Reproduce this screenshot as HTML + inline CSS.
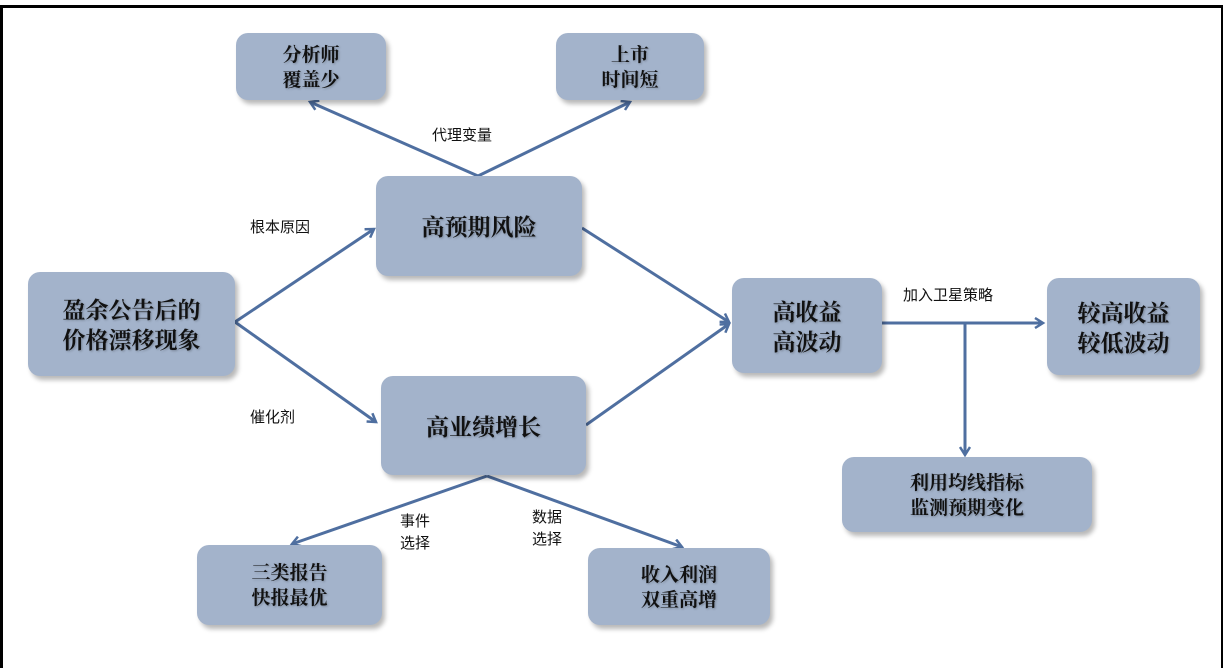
<!DOCTYPE html>
<html><head><meta charset="utf-8"><style>
body{margin:0;width:1224px;height:657px;background:#fff;position:relative;overflow:hidden;font-family:"Liberation Sans","Noto Sans CJK SC",sans-serif}
.f{position:absolute;left:0;top:5px;width:1218px;height:660px;border-top:3px solid #000;border-left:3px solid #000;border-right:2px solid #000}
.b{position:absolute;background:#a3b3cb;border-radius:12px;box-shadow:3px 4px 5px rgba(0,0,0,.28);display:flex;align-items:center;justify-content:center;text-align:center;font-weight:bold;color:#111;font-family:"Noto Serif CJK SC","Noto Sans CJK SC",serif;line-height:1.3;text-shadow:1px 1px 2px rgba(0,0,0,.25)}
.s{font-size:19px}.m{font-size:23px}
.l{position:absolute;font-size:15px;color:#111;font-family:"Noto Sans CJK SC",sans-serif;line-height:1.45}
svg{position:absolute;left:0;top:0}
</style></head><body>
<div class="f"></div>
<svg width="1224" height="657"><defs><marker id="a" markerWidth="12" markerHeight="12" refX="9" refY="6" orient="auto" markerUnits="userSpaceOnUse"><path d="M1,1 L9,6 L1,11" fill="none" stroke="#4f6fa0" stroke-width="2.5"/></marker></defs>
<g stroke="#4f6fa0" stroke-width="3" fill="none">
<line x1="235" y1="322" x2="374" y2="229" marker-end="url(#a)"/>
<line x1="235" y1="322" x2="376" y2="422" marker-end="url(#a)"/>
<line x1="478" y1="176" x2="310" y2="102" marker-end="url(#a)"/>
<line x1="478" y1="176" x2="630" y2="102" marker-end="url(#a)"/>
<line x1="582" y1="228" x2="729" y2="322" marker-end="url(#a)"/>
<line x1="586" y1="425" x2="729" y2="324" marker-end="url(#a)"/>
<line x1="487" y1="476" x2="292" y2="544" marker-end="url(#a)"/>
<line x1="487" y1="476" x2="682" y2="547" marker-end="url(#a)"/>
<line x1="882" y1="323" x2="1043" y2="323" marker-end="url(#a)"/>
<line x1="965" y1="323" x2="965" y2="455" marker-end="url(#a)"/>
</g></svg>
<div class="b s" style="left:236px;top:33px;width:150px;height:67px">分析师<br>覆盖少</div>
<div class="b s" style="left:556px;top:33px;width:148px;height:67px">上市<br>时间短</div>
<div class="b m" style="left:376px;top:176px;width:206px;height:100px">高预期风险</div>
<div class="b m" style="left:381px;top:376px;width:205px;height:99px">高业绩增长</div>
<div class="b m" style="left:28px;top:272px;width:207px;height:104px">盈余公告后的<br>价格漂移现象</div>
<div class="b m" style="left:732px;top:278px;width:150px;height:95px">高收益<br>高波动</div>
<div class="b m" style="left:1047px;top:278px;width:153px;height:97px">较高收益<br>较低波动</div>
<div class="b s" style="left:842px;top:457px;width:250px;height:75px">利用均线指标<br>监测预期变化</div>
<div class="b s" style="left:197px;top:545px;width:185px;height:80px">三类报告<br>快报最优</div>
<div class="b s" style="left:588px;top:548px;width:182px;height:77px">收入利润<br>双重高增</div>
<div class="l" style="left:432px;top:124px">代理变量</div>
<div class="l" style="left:250px;top:216px">根本原因</div>
<div class="l" style="left:250px;top:406px">催化剂</div>
<div class="l" style="left:903px;top:284px">加入卫星策略</div>
<div class="l" style="left:400px;top:510px">事件<br>选择</div>
<div class="l" style="left:532px;top:506px">数据<br>选择</div>
</body></html>
